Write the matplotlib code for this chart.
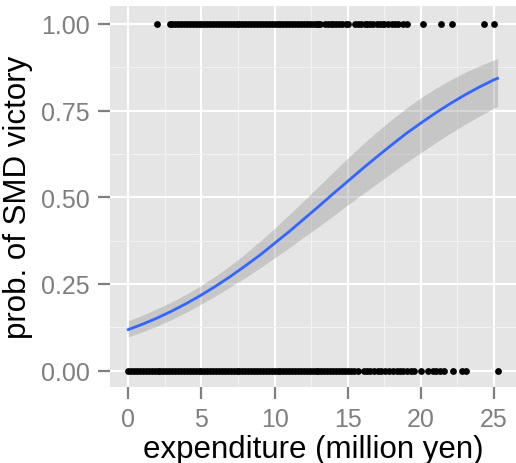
''' Logistic fit of SMD victory on campaign expenditure, ggplot-like look. '''
import matplotlib
matplotlib.use('Agg')
import matplotlib.pyplot as plt
from matplotlib.ticker import MultipleLocator

plt.rcParams['font.family'] = ['Liberation Sans', 'DejaVu Sans']

# expenditure (million yen) of winners (y = 1) and losers (y = 0)
win_x = [1.94, 2.85, 3.0, 3.2, 3.4, 3.6, 3.8, 4.0, 4.2, 4.4, 4.6, 4.8,
         5.0, 5.2, 5.4, 5.6, 5.8, 6.0, 6.2, 6.4, 6.6, 6.8, 7.0, 7.2, 7.4,
         7.6, 7.8, 8.0, 8.2, 8.4, 8.6, 8.8, 9.0, 9.2, 9.4, 9.6, 9.8, 10.0,
         10.2, 10.4, 10.6, 10.8, 11.0, 11.2, 11.4, 11.6, 11.8, 12.0, 12.2,
         12.4, 12.6, 12.8, 13.0, 13.1, 13.45, 13.65, 13.85, 14.0, 14.2,
         14.4, 14.6, 14.9, 15.0, 15.5, 15.7, 15.9, 16.2, 16.35, 16.55,
         16.75, 17.0, 17.2, 17.4, 17.5, 17.75, 18.0, 18.25, 18.45, 18.8,
         19.05, 20.15, 21.4, 22.1, 24.34, 25.0]
lose_x = [0.01, 0.2, 0.4, 0.6, 0.8, 1.0, 1.2, 1.4, 1.6, 1.8, 2.0, 2.2,
          2.4, 2.6, 2.8, 3.0, 3.2, 3.4, 3.6, 3.8, 4.0, 4.2, 4.4, 4.6, 4.8,
          5.0, 5.2, 5.4, 5.6, 5.8, 6.0, 6.2, 6.4, 6.6, 6.8, 7.0, 7.2, 7.4,
          7.6, 7.8, 8.0, 8.2, 8.4, 8.6, 8.8, 9.0, 9.2, 9.4, 9.6, 9.8, 10.0,
          10.2, 10.4, 10.6, 10.8, 11.0, 11.2, 11.4, 11.6, 11.8, 12.0, 12.2,
          12.4, 12.6, 12.8, 13.0, 13.2, 13.4, 13.6, 13.8, 14.0, 14.2, 14.4,
          14.6, 14.8, 15.0, 15.2, 15.45, 15.7, 16.1, 16.3, 16.55, 16.8,
          17.05, 17.3, 17.55, 17.8, 18.1, 18.35, 18.6, 18.8, 19.05, 19.3,
          19.55, 20.0, 20.5, 20.8, 21.05, 21.3, 21.6, 22.2, 22.8, 23.05,
          25.24]

# fitted probability and 95% band
fit_x = [0, 1, 2, 3, 4, 5, 6, 7, 8, 9, 10, 11, 12, 13, 14, 15, 16, 17,
         18, 19, 20, 21, 22, 23, 24, 25, 25.24]
fit_y = [0.118, 0.134, 0.152, 0.172, 0.194, 0.218, 0.244, 0.272, 0.302,
         0.333, 0.367, 0.401, 0.437, 0.473, 0.510, 0.546, 0.582, 0.617,
         0.651, 0.684, 0.714, 0.743, 0.770, 0.795, 0.818, 0.839, 0.843]
fit_lo = [0.097, 0.112, 0.129, 0.148, 0.169, 0.192, 0.216, 0.242, 0.268,
          0.296, 0.325, 0.354, 0.385, 0.415, 0.446, 0.478, 0.509, 0.539,
          0.570, 0.600, 0.629, 0.657, 0.684, 0.710, 0.734, 0.757, 0.762]
fit_hi = [0.144, 0.160, 0.179, 0.199, 0.221, 0.246, 0.274, 0.304, 0.337,
          0.373, 0.410, 0.450, 0.490, 0.531, 0.572, 0.613, 0.652, 0.689,
          0.724, 0.757, 0.787, 0.814, 0.838, 0.860, 0.879, 0.896, 0.900]

x_ticks = [0, 5, 10, 15, 20, 25]
y_ticks = [0.0, 0.25, 0.5, 0.75, 1.0]
y_ticklabels = ['0.00', '0.25', '0.50', '0.75', '1.00']

fig = plt.figure(figsize=(5.16, 4.64), dpi=100)
ax = fig.add_axes([110 / 516, 76 / 464, 406 / 516, 381.3 / 464])
ax.set_facecolor('#E5E5E5')
for s in ax.spines.values():
    s.set_visible(False)

ax.set_xlim(-1.25, 26.5)
ax.set_ylim(-0.0476, 1.0526)
ax.set_xticks(x_ticks)
ax.set_yticks(y_ticks)
ax.set_yticklabels(y_ticklabels)
ax.xaxis.set_minor_locator(MultipleLocator(2.5))
ax.yaxis.set_minor_locator(MultipleLocator(0.125))
ax.grid(which='major', color='white', lw=1.5)
ax.grid(which='minor', color='#F2F2F2', lw=0.8)
ax.set_axisbelow(True)
ax.tick_params(which='major', length=8.6, width=1.6, color='#7F7F7F',
               labelcolor='#7F7F7F', labelsize=18, pad=6)
ax.tick_params(which='minor', length=0)

ax.scatter(win_x, [1] * len(win_x), s=24, color='black', lw=0, zorder=3)
ax.scatter(lose_x, [0] * len(lose_x), s=24, color='black', lw=0, zorder=3)
ax.fill_between(fit_x, fit_lo, fit_hi, color='#999999', alpha=0.4, lw=0,
                zorder=4)
ax.plot(fit_x, fit_y, color='#3366FF', lw=2.0, zorder=5)

ax.set_xlabel('expenditure (million yen)', fontsize=22.5, labelpad=2)
ax.set_ylabel('prob. of SMD victory', fontsize=22.5, labelpad=6)

fig.savefig('out.png', dpi=100)
